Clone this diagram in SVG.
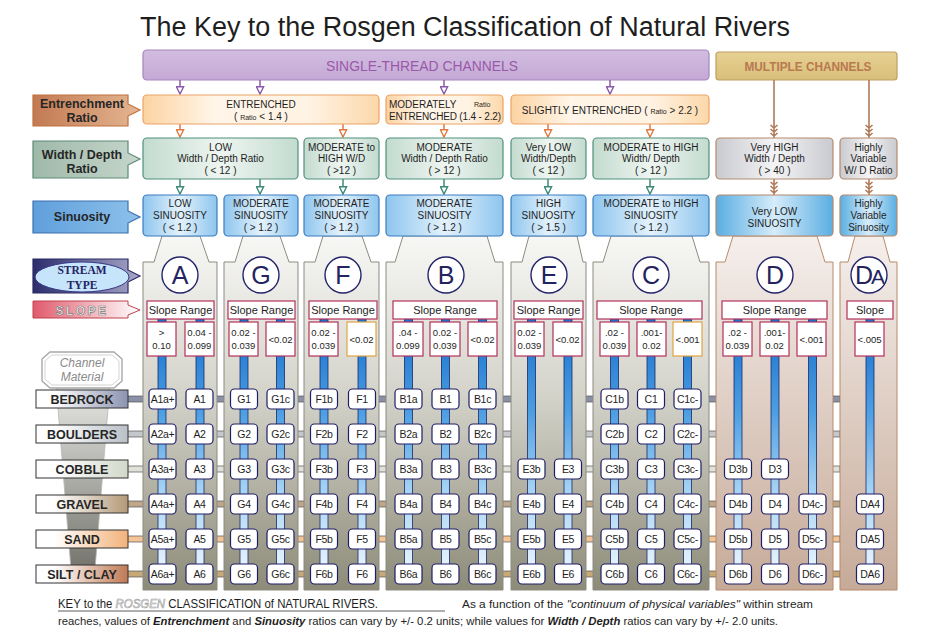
<svg xmlns="http://www.w3.org/2000/svg" xmlns:xlink="http://www.w3.org/1999/xlink" width="943" height="635" viewBox="0 0 943 635">
<style>
text{font-family:"Liberation Sans",Arial,sans-serif;fill:#1e1e1e}
.t10{font-size:10px;text-anchor:middle}
.lab{font-size:12.5px;font-weight:bold;text-anchor:middle;fill:#262626}
.mat{font-size:12.5px;font-weight:bold;text-anchor:middle;fill:#262626}
.r1{fill:url(#gEnt);stroke:#eca266;stroke-width:1.2}
.r2{fill:url(#gWD);stroke:#4f8f7c;stroke-width:1.2}
.r3{fill:url(#gSin);stroke:#3b7dc0;stroke-width:1.2}
.r2m{fill:url(#gGrey);stroke:#b48a6c;stroke-width:1.2}
.r3m{fill:url(#gSin2);stroke:#b48a6c;stroke-width:1.2}
.pan{fill:url(#gPan);stroke:#8c8a80;stroke-width:1}
.panD{fill:url(#gPanD);stroke:#b88a6a;stroke-width:1}
.circ{fill:#fff;stroke:#24246a;stroke-width:1.4}
.let{font-size:25px;text-anchor:middle;fill:#23235f}
.sr{fill:#fff;stroke:#b2315a;stroke-width:1.2}
.sro{fill:#fff;stroke:#e2a444;stroke-width:1.2}
.srt{font-size:11px;text-anchor:middle}
.sv{font-size:9.5px;text-anchor:middle}
.bar{fill:url(#gBar);stroke:#1c2a6a;stroke-width:0.8}
.cbr{fill:#fff;stroke:#1e1e66;stroke-width:1.2}
.cbt{font-size:10.5px;text-anchor:middle;letter-spacing:-0.3px}
.ap{stroke:#8a5aaa;stroke-width:1.5;fill:none}
.ao{stroke:#e07a44;stroke-width:1.5;fill:none}
.at{stroke:#3c8a78;stroke-width:1.5;fill:none}
.ab{stroke:#b07a58;stroke-width:1.6;fill:none}
.rl{stroke:#555;stroke-width:0.7}
.sm{font-size:7px}
.st{font-family:"Liberation Serif","Times New Roman",serif;font-size:11.5px;font-weight:bold;text-anchor:middle;fill:#23235f}
</style>
<defs>
<linearGradient id="gPurple" x1="0" y1="0" x2="0" y2="1"><stop offset="0" stop-color="#d2bde0"/><stop offset="1" stop-color="#c4a9d5"/></linearGradient>
<linearGradient id="gGold" x1="0" y1="0" x2="0" y2="1"><stop offset="0" stop-color="#e6d194"/><stop offset="1" stop-color="#d9bf78"/></linearGradient>
<linearGradient id="gEnt" x1="0" y1="0" x2="1" y2="0"><stop offset="0" stop-color="#fcd3a2"/><stop offset="0.3" stop-color="#fff5e8"/><stop offset="0.7" stop-color="#fff3e4"/><stop offset="1" stop-color="#fcd8aa"/></linearGradient>
<linearGradient id="gWD" x1="0" y1="0" x2="1" y2="0"><stop offset="0" stop-color="#c3dbcf"/><stop offset="0.5" stop-color="#eef5f1"/><stop offset="1" stop-color="#c3dbcf"/></linearGradient>
<linearGradient id="gSin" x1="0" y1="0" x2="1" y2="0"><stop offset="0" stop-color="#8ec5ee"/><stop offset="0.5" stop-color="#e3f2fc"/><stop offset="1" stop-color="#8ec5ee"/></linearGradient>
<linearGradient id="gSin2" x1="0" y1="0" x2="1" y2="0"><stop offset="0" stop-color="#5aaee2"/><stop offset="0.5" stop-color="#d6ecfa"/><stop offset="1" stop-color="#5aaee2"/></linearGradient>
<linearGradient id="gGrey" x1="0" y1="0" x2="1" y2="0"><stop offset="0" stop-color="#c9cacf"/><stop offset="0.5" stop-color="#f4f4f6"/><stop offset="1" stop-color="#c9cacf"/></linearGradient>
<linearGradient id="gPan" gradientUnits="userSpaceOnUse" x1="0" y1="236" x2="0" y2="590"><stop offset="0" stop-color="#f7f7f5"/><stop offset="0.45" stop-color="#d4d3ca"/><stop offset="1" stop-color="#8d8b78"/></linearGradient>
<linearGradient id="gPanD" gradientUnits="userSpaceOnUse" x1="0" y1="236" x2="0" y2="590"><stop offset="0" stop-color="#f5efec"/><stop offset="1" stop-color="#c6aa98"/></linearGradient>
<linearGradient id="gBar" gradientUnits="userSpaceOnUse" x1="0" y1="320" x2="0" y2="585"><stop offset="0" stop-color="#1670cc"/><stop offset="0.35" stop-color="#4d9fe2"/><stop offset="0.65" stop-color="#a8d4f4"/><stop offset="1" stop-color="#f4faff"/></linearGradient>
<linearGradient id="gLE" x1="0" y1="0" x2="1" y2="0"><stop offset="0" stop-color="#c27a52"/><stop offset="1" stop-color="#e4b692"/></linearGradient>
<linearGradient id="gLW" x1="0" y1="0" x2="1" y2="0"><stop offset="0" stop-color="#9fb9a9"/><stop offset="1" stop-color="#c6d6cc"/></linearGradient>
<linearGradient id="gLS" x1="0" y1="0" x2="1" y2="0"><stop offset="0" stop-color="#5f9fdc"/><stop offset="1" stop-color="#8ec1ea"/></linearGradient>
<linearGradient id="gST" x1="0" y1="0" x2="1" y2="0"><stop offset="0" stop-color="#2c2c6c"/><stop offset="1" stop-color="#a8a8c8"/></linearGradient>
<linearGradient id="gSL" x1="0" y1="0" x2="1" y2="0"><stop offset="0" stop-color="#e05a6c"/><stop offset="1" stop-color="#ffffff"/></linearGradient>
<linearGradient id="gFun" gradientUnits="userSpaceOnUse" x1="0" y1="380" x2="0" y2="582"><stop offset="0" stop-color="#ececea"/><stop offset="1" stop-color="#6c6c64"/></linearGradient>
<linearGradient id="m1" x1="0" y1="0" x2="1" y2="0"><stop offset="0.2" stop-color="#fff"/><stop offset="1" stop-color="#8c93b0"/></linearGradient>
<linearGradient id="m2" x1="0" y1="0" x2="1" y2="0"><stop offset="0.2" stop-color="#fff"/><stop offset="1" stop-color="#bac0c7"/></linearGradient>
<linearGradient id="m3" x1="0" y1="0" x2="1" y2="0"><stop offset="0.2" stop-color="#fff"/><stop offset="1" stop-color="#d2d8c9"/></linearGradient>
<linearGradient id="m4" x1="0" y1="0" x2="1" y2="0"><stop offset="0.2" stop-color="#fff"/><stop offset="1" stop-color="#b39978"/></linearGradient>
<linearGradient id="m5" x1="0" y1="0" x2="1" y2="0"><stop offset="0.2" stop-color="#fff"/><stop offset="1" stop-color="#f2b27a"/></linearGradient>
<linearGradient id="m6" x1="0" y1="0" x2="1" y2="0"><stop offset="0.2" stop-color="#fff"/><stop offset="1" stop-color="#c07a55"/></linearGradient>
<marker id="mP" viewBox="0 0 10 10" refX="9" refY="5" markerWidth="9" markerHeight="9" markerUnits="userSpaceOnUse" orient="auto"><path d="M1,1 L9,5 L1,9 Z" fill="#fff" stroke="#8a5aaa" stroke-width="1.6"/></marker>
<marker id="mO" viewBox="0 0 10 10" refX="9" refY="5" markerWidth="9" markerHeight="9" markerUnits="userSpaceOnUse" orient="auto"><path d="M1,1 L9,5 L1,9 Z" fill="#fff" stroke="#e07a44" stroke-width="1.6"/></marker>
<marker id="mT" viewBox="0 0 10 10" refX="9" refY="5" markerWidth="9" markerHeight="9" markerUnits="userSpaceOnUse" orient="auto"><path d="M1,1 L9,5 L1,9 Z" fill="#fff" stroke="#3c8a78" stroke-width="1.6"/></marker>
<rect id="cb" x="-13.5" y="-10" width="27" height="20" rx="4"/>
</defs>

<rect width="943" height="635" fill="#fff"/>

<text x="140" y="36" font-size="27" textLength="650" lengthAdjust="spacingAndGlyphs" fill="#1a1a1a">The Key to the Rosgen Classification of Natural Rivers</text>

<!-- top bars -->
<g id="single-thread">
<rect x="143" y="50" width="566" height="30" rx="4" fill="url(#gPurple)" stroke="#a585bd" stroke-width="1.2"/>
<text x="422" y="71" font-size="14" text-anchor="middle" textLength="192" lengthAdjust="spacingAndGlyphs" style="fill:#9a58aa">SINGLE-THREAD  CHANNELS</text>
</g>
<g id="multiple-channels">
<rect x="716" y="52" width="181" height="28" rx="3" fill="url(#gGold)" stroke="#bf9f62" stroke-width="1.2"/>
<text x="808" y="71" font-size="12" font-weight="bold" text-anchor="middle" textLength="127" lengthAdjust="spacingAndGlyphs" style="fill:#b87850">MULTIPLE  CHANNELS</text>
</g>

<!-- left labels -->
<g id="lbl-entrenchment">
<path d="M33,95 H128 V104 L140,110 L128,116 V126 H33 Z" fill="url(#gLE)" stroke="#c2703e" stroke-width="1.2"/>
<text class="lab" x="82" y="108">Entrenchment</text>
<text class="lab" x="82" y="122">Ratio</text>
</g>
<g id="lbl-wd">
<path d="M33,141 H128 V153 L140,159 L128,165 V178 H33 Z" fill="url(#gLW)" stroke="#5a8a78" stroke-width="1.2"/>
<text class="lab" x="82" y="159">Width / Depth</text>
<text class="lab" x="82" y="173">Ratio</text>
</g>
<g id="lbl-sinuosity">
<path d="M33,201 H128 V211 L140,217 L128,223 V233 H33 Z" fill="url(#gLS)" stroke="#3a70b0" stroke-width="1.2"/>
<text class="lab" x="82" y="221">Sinuosity</text>
</g>
<g id="lbl-streamtype">
<path d="M33,259 H128 V270 L140,276 L128,282 V293 H33 Z" fill="url(#gST)" stroke="#2a2a66" stroke-width="1.2"/>
<ellipse cx="82" cy="277" rx="47" ry="15" fill="#c6e4fa" stroke="#3a3a8a" stroke-width="1"/>
<text class="st" x="82" y="273.5">STREAM</text>
<text class="st" x="82" y="288.5">TYPE</text>
</g>
<g id="lbl-slope">
<path d="M33,301 H128 V305 L140,310 L128,315 V318 H33 Z" fill="url(#gSL)" stroke="#c04050" stroke-width="1"/>
<text x="82" y="314.5" font-size="12" font-weight="bold" text-anchor="middle" letter-spacing="2.5" style="fill:#ffffff;stroke:#7a7a7a;stroke-width:0.7">SLOPE</text>
</g>
<g id="lbl-channel-material">
<path d="M56,384 H110 L94,582 H72 Z" fill="url(#gFun)" stroke="#b8b8b4" stroke-width="0.8"/>
<path d="M50,352 H114 L122,359 V381 L114,388 H50 L42,381 V359 Z" fill="#fff" stroke="#a8a8a8" stroke-width="1.4"/>
<path d="M52,355 H112 L119,361 V379 L112,385 H52 L45,379 V361 Z" fill="none" stroke="#c8c8c8" stroke-width="0.8"/>
<text x="82" y="367" font-size="12" font-style="italic" text-anchor="middle" style="fill:#8a8a8a">Channel</text>
<text x="82" y="381" font-size="12" font-style="italic" text-anchor="middle" style="fill:#8a8a8a">Material</text>
</g>

<!-- connectors -->
<g id="connectors">
<line class="ap" x1="180" y1="80" x2="180" y2="94" marker-end="url(#mP)"/>
<line class="ap" x1="260" y1="80" x2="260" y2="94" marker-end="url(#mP)"/>
<line class="ap" x1="444" y1="80" x2="444" y2="94" marker-end="url(#mP)"/>
<line class="ap" x1="610" y1="80" x2="610" y2="94" marker-end="url(#mP)"/>
<line class="ao" x1="180" y1="124" x2="180" y2="137" marker-end="url(#mO)"/>
<line class="ao" x1="343" y1="124" x2="343" y2="137" marker-end="url(#mO)"/>
<line class="ao" x1="444" y1="124" x2="444" y2="137" marker-end="url(#mO)"/>
<line class="ao" x1="548" y1="124" x2="548" y2="137" marker-end="url(#mO)"/>
<line class="ao" x1="650" y1="124" x2="650" y2="137" marker-end="url(#mO)"/>
<line class="at" x1="180" y1="179" x2="180" y2="194" marker-end="url(#mT)"/>
<line class="at" x1="260" y1="179" x2="260" y2="194" marker-end="url(#mT)"/>
<line class="at" x1="343" y1="179" x2="343" y2="194" marker-end="url(#mT)"/>
<line class="at" x1="444" y1="179" x2="444" y2="194" marker-end="url(#mT)"/>
<line class="at" x1="548" y1="179" x2="548" y2="194" marker-end="url(#mT)"/>
<line class="at" x1="650" y1="179" x2="650" y2="194" marker-end="url(#mT)"/>
<path class="ab" d="M774,80 V138 M770.5,125 L774,128 L777.5,125 M770.5,129 L774,132 L777.5,129 M770.5,133 L774,136 L777.5,133"/>
<path class="ab" d="M869,80 V138 M865.5,125 L869,128 L872.5,125 M865.5,129 L869,132 L872.5,129 M865.5,133 L869,136 L872.5,133"/>
<path class="ab" d="M774,179 V195 M770.5,182 L774,185 L777.5,182 M770.5,186 L774,189 L777.5,186 M770.5,190 L774,193 L777.5,190"/>
<path class="ab" d="M869,179 V195 M865.5,182 L869,185 L872.5,182 M865.5,186 L869,189 L872.5,186 M865.5,190 L869,193 L872.5,190"/>
<rect class="rl" x="126" y="396" width="714" height="6" fill="#8a90a6"/>
<rect class="rl" x="126" y="431" width="714" height="6" fill="#c4c8cc"/>
<rect class="rl" x="126" y="466" width="714" height="6" fill="#dfe2d8"/>
<rect class="rl" x="126" y="501" width="714" height="6" fill="#bfa789"/>
<rect class="rl" x="126" y="536" width="714" height="6" fill="#f4c396"/>
<rect class="rl" x="126" y="571" width="714" height="6" fill="#c7a877"/>
</g>

<!-- material labels -->
<g id="mat-bedrock"><rect x="36" y="390" width="92" height="18" fill="url(#m1)" stroke="#333" stroke-width="1"/><text class="mat" x="82" y="403.5">BEDROCK</text></g>
<g id="mat-boulders"><rect x="36" y="425" width="92" height="18" fill="url(#m2)" stroke="#333" stroke-width="1"/><text class="mat" x="82" y="438.5">BOULDERS</text></g>
<g id="mat-cobble"><rect x="36" y="460" width="92" height="18" fill="url(#m3)" stroke="#333" stroke-width="1"/><text class="mat" x="82" y="473.5">COBBLE</text></g>
<g id="mat-gravel"><rect x="36" y="495" width="92" height="18" fill="url(#m4)" stroke="#333" stroke-width="1"/><text class="mat" x="82" y="508.5">GRAVEL</text></g>
<g id="mat-sand"><rect x="36" y="530" width="92" height="18" fill="url(#m5)" stroke="#333" stroke-width="1"/><text class="mat" x="82" y="543.5">SAND</text></g>
<g id="mat-silt"><rect x="36" y="565" width="92" height="18" fill="url(#m6)" stroke="#333" stroke-width="1"/><text class="mat" x="82" y="578.5">SILT / CLAY</text></g>

<!-- panels -->
<g id="panels">
<path class="pan" d="M143,590 V262 H154 L162,236 H200 L209,262 H217 V590 Z"/>
<path class="pan" d="M224,590 V262 H235 L243,236 H280 L289,262 H298 V590 Z"/>
<path class="pan" d="M304,590 V262 H315 L323,236 H362 L371,262 H379 V590 Z"/>
<path class="pan" d="M386,590 V262 H395 L403,236 H487 L495,262 H503 V590 Z"/>
<path class="pan" d="M511,590 V262 H522 L529,236 H577 L583,262 H586 V590 Z"/>
<path class="pan" d="M593,590 V262 H603 L611,236 H692 L700,262 H709 V590 Z"/>
<path class="panD" d="M716,590 V262 H725 L733,236 H817 L825,262 H833 V590 Z"/>
<path class="panD" d="M840,590 V262 H848 L855,236 H883 L890,262 H897 V590 Z"/>
</g>

<!-- row 1 -->
<g id="ent-entrenched"><rect class="r1" x="143" y="95" width="236" height="29" rx="4"/>
<text class="t10" x="261" y="108">ENTRENCHED</text>
<text class="t10" x="261" y="120">( <tspan class="sm">Ratio</tspan> &lt; 1.4 )</text></g>
<g id="ent-moderately"><rect class="r1" x="386" y="95" width="117" height="29" rx="4"/>
<text x="389" y="108" font-size="10">MODERATELY</text>
<text x="474" y="107" font-size="7">Ratio</text>
<text x="389" y="120" font-size="10" textLength="112">ENTRENCHED (1.4 - 2.2)</text></g>
<g id="ent-slightly"><rect class="r1" x="511" y="95" width="198" height="29" rx="4"/>
<text class="t10" x="610" y="114">SLIGHTLY  ENTRENCHED ( <tspan class="sm">Ratio</tspan> &gt; 2.2 )</text></g>

<!-- row 2 -->
<g id="wd-low"><rect class="r2" x="143" y="138" width="155" height="41" rx="4"/>
<text class="t10" x="220.5" y="150.5">LOW</text><text class="t10" x="220.5" y="162">Width / Depth Ratio</text><text class="t10" x="220.5" y="173.5">( &lt; 12 )</text></g>
<g id="wd-modhigh"><rect class="r2" x="304" y="138" width="75" height="41" rx="4"/>
<text class="t10" x="341.5" y="150.5">MODERATE to</text><text class="t10" x="341.5" y="162">HIGH   W/D</text><text class="t10" x="341.5" y="173.5">( &gt;12 )</text></g>
<g id="wd-moderate"><rect class="r2" x="386" y="138" width="117" height="41" rx="4"/>
<text class="t10" x="444.5" y="150.5">MODERATE</text><text class="t10" x="444.5" y="162">Width / Depth Ratio</text><text class="t10" x="444.5" y="173.5">( &gt; 12 )</text></g>
<g id="wd-verylow"><rect class="r2" x="511" y="138" width="75" height="41" rx="4"/>
<text class="t10" x="548.5" y="150.5">Very LOW</text><text class="t10" x="548.5" y="162">Width/Depth</text><text class="t10" x="548.5" y="173.5">( &lt; 12 )</text></g>
<g id="wd-modhigh2"><rect class="r2" x="593" y="138" width="116" height="41" rx="4"/>
<text class="t10" x="651" y="150.5">MODERATE to HIGH</text><text class="t10" x="651" y="162">Width/ Depth</text><text class="t10" x="651" y="173.5">( &gt; 12 )</text></g>
<g id="wd-veryhigh"><rect class="r2m" x="716" y="138" width="117" height="41" rx="4"/>
<text class="t10" x="774.5" y="150.5">Very HIGH</text><text class="t10" x="774.5" y="162">Width / Depth</text><text class="t10" x="774.5" y="173.5">( &gt; 40 )</text></g>
<g id="wd-variable"><rect class="r2m" x="840" y="138" width="57" height="41" rx="4"/>
<text class="t10" x="868.5" y="150.5">Highly</text><text class="t10" x="868.5" y="162">Variable</text><text class="t10" x="868.5" y="173.5">W/ D Ratio</text></g>

<!-- row 3 -->
<g id="sin-low"><rect class="r3" x="143" y="195" width="74" height="41" rx="4"/>
<text class="t10" x="180" y="206.5">LOW</text><text class="t10" x="180" y="218.5">SINUOSITY</text><text class="t10" x="180" y="230.5">( &lt; 1.2 )</text></g>
<g id="sin-mod-g"><rect class="r3" x="224" y="195" width="74" height="41" rx="4"/>
<text class="t10" x="261" y="206.5">MODERATE</text><text class="t10" x="261" y="218.5">SINUOSITY</text><text class="t10" x="261" y="230.5">( &gt; 1.2 )</text></g>
<g id="sin-mod-f"><rect class="r3" x="304" y="195" width="75" height="41" rx="4"/>
<text class="t10" x="341.5" y="206.5">MODERATE</text><text class="t10" x="341.5" y="218.5">SINUOSITY</text><text class="t10" x="341.5" y="230.5">( &gt; 1.2 )</text></g>
<g id="sin-mod-b"><rect class="r3" x="386" y="195" width="117" height="41" rx="4"/>
<text class="t10" x="444.5" y="206.5">MODERATE</text><text class="t10" x="444.5" y="218.5">SINUOSITY</text><text class="t10" x="444.5" y="230.5">( &gt; 1.2 )</text></g>
<g id="sin-high"><rect class="r3" x="511" y="195" width="75" height="41" rx="4"/>
<text class="t10" x="548.5" y="206.5">HIGH</text><text class="t10" x="548.5" y="218.5">SINUOSITY</text><text class="t10" x="548.5" y="230.5">( &gt; 1.5 )</text></g>
<g id="sin-modhigh"><rect class="r3" x="593" y="195" width="116" height="41" rx="4"/>
<text class="t10" x="651" y="206.5">MODERATE to HIGH</text><text class="t10" x="651" y="218.5">SINUOSITY</text><text class="t10" x="651" y="230.5">( &gt; 1.2 )</text></g>
<g id="sin-verylow"><rect class="r3m" x="716" y="195" width="117" height="41" rx="4"/>
<text class="t10" x="774.5" y="214.5">Very LOW</text><text class="t10" x="774.5" y="226.5">SINUOSITY</text></g>
<g id="sin-variable"><rect class="r3m" x="840" y="195" width="57" height="41" rx="4"/>
<text class="t10" x="868.5" y="206.5">Highly</text><text class="t10" x="868.5" y="218.5">Variable</text><text class="t10" x="868.5" y="230.5">Sinuosity</text></g>

<!-- bars -->
<g id="bars">
<rect class="bar" x="158" y="318" width="8" height="256"/><rect class="bar" x="196" y="318" width="8" height="256"/>
<rect class="bar" x="240" y="318" width="8" height="256"/><rect class="bar" x="276.5" y="318" width="8" height="256"/>
<rect class="bar" x="320" y="318" width="8" height="256"/><rect class="bar" x="358" y="318" width="8" height="256"/>
<rect class="bar" x="404.5" y="318" width="8" height="256"/><rect class="bar" x="441.5" y="318" width="8" height="256"/><rect class="bar" x="478.5" y="318" width="8" height="256"/>
<rect class="bar" x="527.5" y="318" width="8" height="256"/><rect class="bar" x="564" y="318" width="8" height="256"/>
<rect class="bar" x="610.5" y="318" width="8" height="256"/><rect class="bar" x="647" y="318" width="8" height="256"/><rect class="bar" x="683.5" y="318" width="8" height="256"/>
<rect class="bar" x="734" y="318" width="8" height="256"/><rect class="bar" x="771" y="318" width="8" height="256"/><rect class="bar" x="808.5" y="318" width="8" height="256"/>
<rect class="bar" x="866" y="318" width="8" height="256"/>
</g>

<!-- stream types -->
<g id="type-A">
<circle class="circ" cx="180" cy="275" r="18"/><text class="let" x="180" y="284">A</text>
<rect class="sr" x="147" y="301" width="67" height="18"/><text class="srt" x="180.5" y="314">Slope Range</text>
<rect class="sr" x="147" y="322" width="29" height="34"/><text class="sv" x="161.5" y="336">&gt;</text><text class="sv" x="161.5" y="349">0.10</text>
<rect class="sr" x="185" y="322" width="29" height="34"/><text class="sv" x="199.5" y="336">0.04 -</text><text class="sv" x="199.5" y="349">0.099</text>
</g>
<g id="type-G">
<circle class="circ" cx="261" cy="275" r="18"/><text class="let" x="261" y="284">G</text>
<rect class="sr" x="228" y="301" width="67" height="18"/><text class="srt" x="261.5" y="314">Slope Range</text>
<rect class="sr" x="229" y="322" width="29" height="34"/><text class="sv" x="243.5" y="336">0.02 -</text><text class="sv" x="243.5" y="349">0.039</text>
<rect class="sr" x="266" y="322" width="29" height="34"/><text class="sv" x="280.5" y="342.5">&lt;0.02</text>
</g>
<g id="type-F">
<circle class="circ" cx="343" cy="275" r="18"/><text class="let" x="343" y="284">F</text>
<rect class="sr" x="309" y="301" width="68" height="18"/><text class="srt" x="343" y="314">Slope Range</text>
<rect class="sr" x="309" y="322" width="29" height="34"/><text class="sv" x="323.5" y="336">0.02 -</text><text class="sv" x="323.5" y="349">0.039</text>
<rect class="sro" x="347" y="322" width="29" height="34"/><text class="sv" x="361.5" y="342.5">&lt;0.02</text>
</g>
<g id="type-B">
<circle class="circ" cx="446" cy="275" r="18"/><text class="let" x="446" y="284">B</text>
<rect class="sr" x="393" y="301" width="104" height="18"/><text class="srt" x="445" y="314">Slope  Range</text>
<rect class="sr" x="393" y="322" width="30" height="34"/><text class="sv" x="408" y="336">.04 -</text><text class="sv" x="408" y="349">0.099</text>
<rect class="sr" x="430" y="322" width="30" height="34"/><text class="sv" x="445" y="336">0.02 -</text><text class="sv" x="445" y="349">0.039</text>
<rect class="sr" x="468" y="322" width="29" height="34"/><text class="sv" x="482.5" y="342.5">&lt;0.02</text>
</g>
<g id="type-E">
<circle class="circ" cx="549" cy="275" r="18"/><text class="let" x="549" y="284">E</text>
<rect class="sr" x="514" y="301" width="69" height="18"/><text class="srt" x="548.5" y="314">Slope Range</text>
<rect class="sr" x="515" y="322" width="29" height="34"/><text class="sv" x="529.5" y="336">0.02 -</text><text class="sv" x="529.5" y="349">0.039</text>
<rect class="sr" x="553" y="322" width="29" height="34"/><text class="sv" x="567.5" y="342.5">&lt;0.02</text>
</g>
<g id="type-C">
<circle class="circ" cx="651" cy="275" r="18"/><text class="let" x="651" y="284">C</text>
<rect class="sr" x="597" y="301" width="105" height="18"/><text class="srt" x="651" y="314">Slope  Range</text>
<rect class="sr" x="600" y="322" width="29" height="34"/><text class="sv" x="614.5" y="336">.02 -</text><text class="sv" x="614.5" y="349">0.039</text>
<rect class="sr" x="637" y="322" width="29" height="34"/><text class="sv" x="651.5" y="336">.001-</text><text class="sv" x="651.5" y="349">0.02</text>
<rect class="sro" x="673" y="322" width="29" height="34"/><text class="sv" x="687.5" y="342.5">&lt;.001</text>
</g>
<g id="type-D">
<circle class="circ" cx="775" cy="275" r="18"/><text class="let" x="775" y="284">D</text>
<rect class="sr" x="722" y="301" width="105" height="18"/><text class="srt" x="774.5" y="314">Slope  Range</text>
<rect class="sr" x="723" y="322" width="29" height="34"/><text class="sv" x="737.5" y="336">.02 -</text><text class="sv" x="737.5" y="349">0.039</text>
<rect class="sr" x="760" y="322" width="29" height="34"/><text class="sv" x="774.5" y="336">.001-</text><text class="sv" x="774.5" y="349">0.02</text>
<rect class="sr" x="797" y="322" width="29" height="34"/><text class="sv" x="811.5" y="342.5">&lt;.001</text>
</g>
<g id="type-DA">
<circle class="circ" cx="869" cy="275" r="18"/><text class="let" x="869" y="284" letter-spacing="-2">D<tspan font-size="21">A</tspan></text>
<rect class="sr" x="847" y="301" width="46" height="18"/><text class="srt" x="870" y="314">Slope</text>
<rect class="sr" x="855" y="322" width="29" height="34"/><text class="sv" x="869.5" y="342.5">&lt;.005</text>
</g>

<!-- class boxes -->
<g id="n-A1a"><g transform="translate(162.5,399)"><use href="#cb" class="cbr"/><text class="cbt" y="4">A1a+</text></g></g>
<g id="n-A2a"><g transform="translate(162.5,434)"><use href="#cb" class="cbr"/><text class="cbt" y="4">A2a+</text></g></g>
<g id="n-A3a"><g transform="translate(162.5,469)"><use href="#cb" class="cbr"/><text class="cbt" y="4">A3a+</text></g></g>
<g id="n-A4a"><g transform="translate(162.5,504)"><use href="#cb" class="cbr"/><text class="cbt" y="4">A4a+</text></g></g>
<g id="n-A5a"><g transform="translate(162.5,539)"><use href="#cb" class="cbr"/><text class="cbt" y="4">A5a+</text></g></g>
<g id="n-A6a"><g transform="translate(162.5,574)"><use href="#cb" class="cbr"/><text class="cbt" y="4">A6a+</text></g></g>
<g id="n-A1"><g transform="translate(199.5,399)"><use href="#cb" class="cbr"/><text class="cbt" y="4">A1</text></g></g>
<g id="n-A2"><g transform="translate(199.5,434)"><use href="#cb" class="cbr"/><text class="cbt" y="4">A2</text></g></g>
<g id="n-A3"><g transform="translate(199.5,469)"><use href="#cb" class="cbr"/><text class="cbt" y="4">A3</text></g></g>
<g id="n-A4"><g transform="translate(199.5,504)"><use href="#cb" class="cbr"/><text class="cbt" y="4">A4</text></g></g>
<g id="n-A5"><g transform="translate(199.5,539)"><use href="#cb" class="cbr"/><text class="cbt" y="4">A5</text></g></g>
<g id="n-A6"><g transform="translate(199.5,574)"><use href="#cb" class="cbr"/><text class="cbt" y="4">A6</text></g></g>

<g id="n-G1"><g transform="translate(244,399)"><use href="#cb" class="cbr"/><text class="cbt" y="4">G1</text></g></g>
<g id="n-G2"><g transform="translate(244,434)"><use href="#cb" class="cbr"/><text class="cbt" y="4">G2</text></g></g>
<g id="n-G3"><g transform="translate(244,469)"><use href="#cb" class="cbr"/><text class="cbt" y="4">G3</text></g></g>
<g id="n-G4"><g transform="translate(244,504)"><use href="#cb" class="cbr"/><text class="cbt" y="4">G4</text></g></g>
<g id="n-G5"><g transform="translate(244,539)"><use href="#cb" class="cbr"/><text class="cbt" y="4">G5</text></g></g>
<g id="n-G6"><g transform="translate(244,574)"><use href="#cb" class="cbr"/><text class="cbt" y="4">G6</text></g></g>
<g id="n-G1c"><g transform="translate(280.5,399)"><use href="#cb" class="cbr"/><text class="cbt" y="4">G1c</text></g></g>
<g id="n-G2c"><g transform="translate(280.5,434)"><use href="#cb" class="cbr"/><text class="cbt" y="4">G2c</text></g></g>
<g id="n-G3c"><g transform="translate(280.5,469)"><use href="#cb" class="cbr"/><text class="cbt" y="4">G3c</text></g></g>
<g id="n-G4c"><g transform="translate(280.5,504)"><use href="#cb" class="cbr"/><text class="cbt" y="4">G4c</text></g></g>
<g id="n-G5c"><g transform="translate(280.5,539)"><use href="#cb" class="cbr"/><text class="cbt" y="4">G5c</text></g></g>
<g id="n-G6c"><g transform="translate(280.5,574)"><use href="#cb" class="cbr"/><text class="cbt" y="4">G6c</text></g></g>

<g id="n-F1b"><g transform="translate(324,399)"><use href="#cb" class="cbr"/><text class="cbt" y="4">F1b</text></g></g>
<g id="n-F2b"><g transform="translate(324,434)"><use href="#cb" class="cbr"/><text class="cbt" y="4">F2b</text></g></g>
<g id="n-F3b"><g transform="translate(324,469)"><use href="#cb" class="cbr"/><text class="cbt" y="4">F3b</text></g></g>
<g id="n-F4b"><g transform="translate(324,504)"><use href="#cb" class="cbr"/><text class="cbt" y="4">F4b</text></g></g>
<g id="n-F5b"><g transform="translate(324,539)"><use href="#cb" class="cbr"/><text class="cbt" y="4">F5b</text></g></g>
<g id="n-F6b"><g transform="translate(324,574)"><use href="#cb" class="cbr"/><text class="cbt" y="4">F6b</text></g></g>
<g id="n-F1"><g transform="translate(362,399)"><use href="#cb" class="cbr"/><text class="cbt" y="4">F1</text></g></g>
<g id="n-F2"><g transform="translate(362,434)"><use href="#cb" class="cbr"/><text class="cbt" y="4">F2</text></g></g>
<g id="n-F3"><g transform="translate(362,469)"><use href="#cb" class="cbr"/><text class="cbt" y="4">F3</text></g></g>
<g id="n-F4"><g transform="translate(362,504)"><use href="#cb" class="cbr"/><text class="cbt" y="4">F4</text></g></g>
<g id="n-F5"><g transform="translate(362,539)"><use href="#cb" class="cbr"/><text class="cbt" y="4">F5</text></g></g>
<g id="n-F6"><g transform="translate(362,574)"><use href="#cb" class="cbr"/><text class="cbt" y="4">F6</text></g></g>

<g id="n-B1a"><g transform="translate(408.5,399)"><use href="#cb" class="cbr"/><text class="cbt" y="4">B1a</text></g></g>
<g id="n-B2a"><g transform="translate(408.5,434)"><use href="#cb" class="cbr"/><text class="cbt" y="4">B2a</text></g></g>
<g id="n-B3a"><g transform="translate(408.5,469)"><use href="#cb" class="cbr"/><text class="cbt" y="4">B3a</text></g></g>
<g id="n-B4a"><g transform="translate(408.5,504)"><use href="#cb" class="cbr"/><text class="cbt" y="4">B4a</text></g></g>
<g id="n-B5a"><g transform="translate(408.5,539)"><use href="#cb" class="cbr"/><text class="cbt" y="4">B5a</text></g></g>
<g id="n-B6a"><g transform="translate(408.5,574)"><use href="#cb" class="cbr"/><text class="cbt" y="4">B6a</text></g></g>
<g id="n-B1"><g transform="translate(445.5,399)"><use href="#cb" class="cbr"/><text class="cbt" y="4">B1</text></g></g>
<g id="n-B2"><g transform="translate(445.5,434)"><use href="#cb" class="cbr"/><text class="cbt" y="4">B2</text></g></g>
<g id="n-B3"><g transform="translate(445.5,469)"><use href="#cb" class="cbr"/><text class="cbt" y="4">B3</text></g></g>
<g id="n-B4"><g transform="translate(445.5,504)"><use href="#cb" class="cbr"/><text class="cbt" y="4">B4</text></g></g>
<g id="n-B5"><g transform="translate(445.5,539)"><use href="#cb" class="cbr"/><text class="cbt" y="4">B5</text></g></g>
<g id="n-B6"><g transform="translate(445.5,574)"><use href="#cb" class="cbr"/><text class="cbt" y="4">B6</text></g></g>
<g id="n-B1c"><g transform="translate(482.5,399)"><use href="#cb" class="cbr"/><text class="cbt" y="4">B1c</text></g></g>
<g id="n-B2c"><g transform="translate(482.5,434)"><use href="#cb" class="cbr"/><text class="cbt" y="4">B2c</text></g></g>
<g id="n-B3c"><g transform="translate(482.5,469)"><use href="#cb" class="cbr"/><text class="cbt" y="4">B3c</text></g></g>
<g id="n-B4c"><g transform="translate(482.5,504)"><use href="#cb" class="cbr"/><text class="cbt" y="4">B4c</text></g></g>
<g id="n-B5c"><g transform="translate(482.5,539)"><use href="#cb" class="cbr"/><text class="cbt" y="4">B5c</text></g></g>
<g id="n-B6c"><g transform="translate(482.5,574)"><use href="#cb" class="cbr"/><text class="cbt" y="4">B6c</text></g></g>

<g id="n-E3b"><g transform="translate(531.5,469)"><use href="#cb" class="cbr"/><text class="cbt" y="4">E3b</text></g></g>
<g id="n-E4b"><g transform="translate(531.5,504)"><use href="#cb" class="cbr"/><text class="cbt" y="4">E4b</text></g></g>
<g id="n-E5b"><g transform="translate(531.5,539)"><use href="#cb" class="cbr"/><text class="cbt" y="4">E5b</text></g></g>
<g id="n-E6b"><g transform="translate(531.5,574)"><use href="#cb" class="cbr"/><text class="cbt" y="4">E6b</text></g></g>
<g id="n-E3"><g transform="translate(568,469)"><use href="#cb" class="cbr"/><text class="cbt" y="4">E3</text></g></g>
<g id="n-E4"><g transform="translate(568,504)"><use href="#cb" class="cbr"/><text class="cbt" y="4">E4</text></g></g>
<g id="n-E5"><g transform="translate(568,539)"><use href="#cb" class="cbr"/><text class="cbt" y="4">E5</text></g></g>
<g id="n-E6"><g transform="translate(568,574)"><use href="#cb" class="cbr"/><text class="cbt" y="4">E6</text></g></g>

<g id="n-C1b"><g transform="translate(614.5,399)"><use href="#cb" class="cbr"/><text class="cbt" y="4">C1b</text></g></g>
<g id="n-C2b"><g transform="translate(614.5,434)"><use href="#cb" class="cbr"/><text class="cbt" y="4">C2b</text></g></g>
<g id="n-C3b"><g transform="translate(614.5,469)"><use href="#cb" class="cbr"/><text class="cbt" y="4">C3b</text></g></g>
<g id="n-C4b"><g transform="translate(614.5,504)"><use href="#cb" class="cbr"/><text class="cbt" y="4">C4b</text></g></g>
<g id="n-C5b"><g transform="translate(614.5,539)"><use href="#cb" class="cbr"/><text class="cbt" y="4">C5b</text></g></g>
<g id="n-C6b"><g transform="translate(614.5,574)"><use href="#cb" class="cbr"/><text class="cbt" y="4">C6b</text></g></g>
<g id="n-C1"><g transform="translate(651,399)"><use href="#cb" class="cbr"/><text class="cbt" y="4">C1</text></g></g>
<g id="n-C2"><g transform="translate(651,434)"><use href="#cb" class="cbr"/><text class="cbt" y="4">C2</text></g></g>
<g id="n-C3"><g transform="translate(651,469)"><use href="#cb" class="cbr"/><text class="cbt" y="4">C3</text></g></g>
<g id="n-C4"><g transform="translate(651,504)"><use href="#cb" class="cbr"/><text class="cbt" y="4">C4</text></g></g>
<g id="n-C5"><g transform="translate(651,539)"><use href="#cb" class="cbr"/><text class="cbt" y="4">C5</text></g></g>
<g id="n-C6"><g transform="translate(651,574)"><use href="#cb" class="cbr"/><text class="cbt" y="4">C6</text></g></g>
<g id="n-C1c"><g transform="translate(687.5,399)"><use href="#cb" class="cbr"/><text class="cbt" y="4">C1c-</text></g></g>
<g id="n-C2c"><g transform="translate(687.5,434)"><use href="#cb" class="cbr"/><text class="cbt" y="4">C2c-</text></g></g>
<g id="n-C3c"><g transform="translate(687.5,469)"><use href="#cb" class="cbr"/><text class="cbt" y="4">C3c-</text></g></g>
<g id="n-C4c"><g transform="translate(687.5,504)"><use href="#cb" class="cbr"/><text class="cbt" y="4">C4c-</text></g></g>
<g id="n-C5c"><g transform="translate(687.5,539)"><use href="#cb" class="cbr"/><text class="cbt" y="4">C5c-</text></g></g>
<g id="n-C6c"><g transform="translate(687.5,574)"><use href="#cb" class="cbr"/><text class="cbt" y="4">C6c-</text></g></g>

<g id="n-D3b"><g transform="translate(738,469)"><use href="#cb" class="cbr"/><text class="cbt" y="4">D3b</text></g></g>
<g id="n-D4b"><g transform="translate(738,504)"><use href="#cb" class="cbr"/><text class="cbt" y="4">D4b</text></g></g>
<g id="n-D5b"><g transform="translate(738,539)"><use href="#cb" class="cbr"/><text class="cbt" y="4">D5b</text></g></g>
<g id="n-D6b"><g transform="translate(738,574)"><use href="#cb" class="cbr"/><text class="cbt" y="4">D6b</text></g></g>
<g id="n-D3"><g transform="translate(775,469)"><use href="#cb" class="cbr"/><text class="cbt" y="4">D3</text></g></g>
<g id="n-D4"><g transform="translate(775,504)"><use href="#cb" class="cbr"/><text class="cbt" y="4">D4</text></g></g>
<g id="n-D5"><g transform="translate(775,539)"><use href="#cb" class="cbr"/><text class="cbt" y="4">D5</text></g></g>
<g id="n-D6"><g transform="translate(775,574)"><use href="#cb" class="cbr"/><text class="cbt" y="4">D6</text></g></g>
<g id="n-D4c"><g transform="translate(812.5,504)"><use href="#cb" class="cbr"/><text class="cbt" y="4">D4c-</text></g></g>
<g id="n-D5c"><g transform="translate(812.5,539)"><use href="#cb" class="cbr"/><text class="cbt" y="4">D5c-</text></g></g>
<g id="n-D6c"><g transform="translate(812.5,574)"><use href="#cb" class="cbr"/><text class="cbt" y="4">D6c-</text></g></g>

<g id="n-DA4"><g transform="translate(870,504)"><use href="#cb" class="cbr"/><text class="cbt" y="4">DA4</text></g></g>
<g id="n-DA5"><g transform="translate(870,539)"><use href="#cb" class="cbr"/><text class="cbt" y="4">DA5</text></g></g>
<g id="n-DA6"><g transform="translate(870,574)"><use href="#cb" class="cbr"/><text class="cbt" y="4">DA6</text></g></g>

<!-- footer -->
<g id="footer">
<text x="58" y="608" font-size="12" textLength="320" lengthAdjust="spacingAndGlyphs">KEY to the <tspan style="fill:#fff;stroke:#9a9a9a;stroke-width:0.6" font-style="italic">ROSGEN</tspan>  CLASSIFICATION of NATURAL RIVERS.</text>
<line x1="58" y1="611" x2="445" y2="611" stroke="#333" stroke-width="0.8"/>
<text x="462" y="608" font-size="11" textLength="351" lengthAdjust="spacingAndGlyphs">As a function of the  <tspan font-style="italic">"continuum of physical variables"</tspan>  within stream</text>
<text x="58" y="625" font-size="11" textLength="720" lengthAdjust="spacingAndGlyphs">reaches, values of  <tspan font-weight="bold" font-style="italic">Entrenchment</tspan> and <tspan font-weight="bold" font-style="italic">Sinuosity</tspan>  ratios can vary by +/- 0.2 units; while values for <tspan font-weight="bold" font-style="italic">Width / Depth</tspan>  ratios can vary by +/- 2.0 units.</text>
</g>
</svg>
